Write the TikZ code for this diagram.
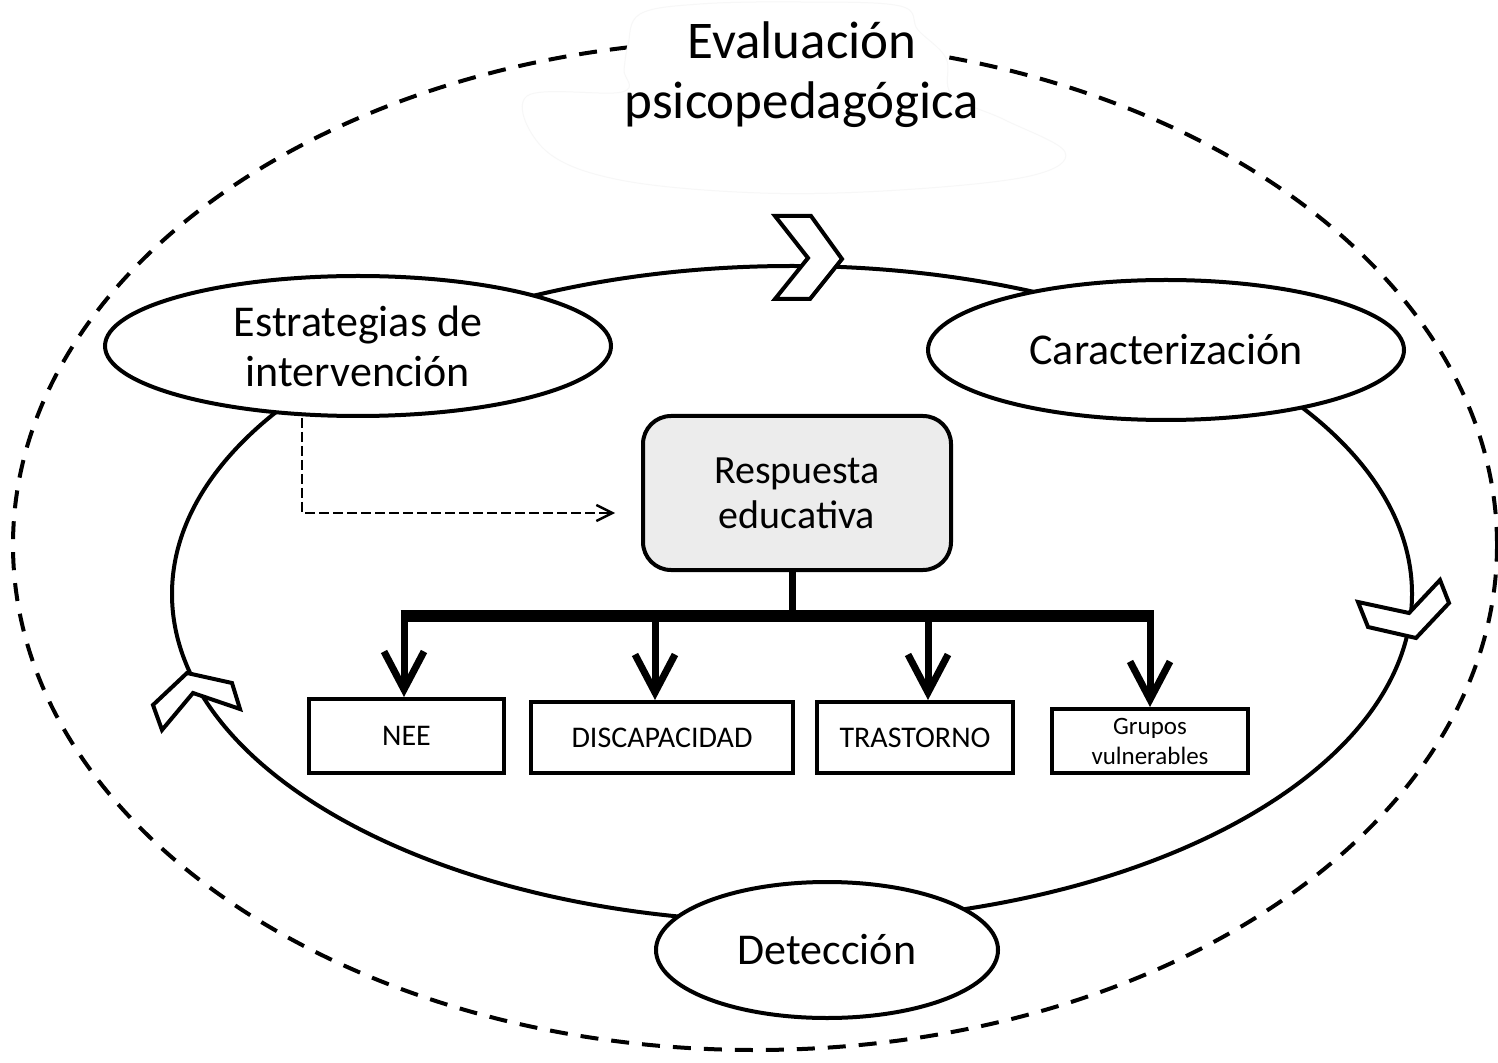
\documentclass[tikz,border=0pt]{standalone}
\usepackage{fontspec}
\setmainfont{Carlito}
\usetikzlibrary{arrows.meta,shapes.geometric}
\begin{document}
\begin{tikzpicture}[x=0.5pt,y=-0.5pt,
  oval/.style={ellipse,draw,line width=2pt,fill=white,inner sep=0pt,align=center,font=\fontsize{22}{25}\selectfont},
  cbox/.style={rectangle,draw,line width=2pt,fill=white,inner sep=0pt,align=center,font=\fontsize{15}{18}\selectfont},
  chev/.style={draw,line width=2pt,fill=white,line join=miter},
  treeline/.style={line width=3.5pt},
  treearrow/.style={line width=3.5pt,-{Straight Barb[length=19pt,width=20pt]}},
  dasharrow/.style={line width=1.2pt,dash pattern=on 5pt off 2pt,-{Straight Barb[length=8pt,width=8pt]}}]
\useasboundingbox (0,0) rectangle (1498,1063);
\fill[white] (0,0) rectangle (1498,1063);
% outer dashed ellipse
\draw[line width=2pt,dash pattern=on 9pt off 6.5pt] (755,545) ellipse [x radius=371pt,y radius=252.5pt];
% cloud behind the title
\draw[draw=gray!6,line width=0.5pt,fill=white] plot[smooth cycle,tension=0.6] coordinates {(628,45) (640,14) (700,4) (800,2) (900,6) (918,30) (946,58) (952,95) (1005,120) (1065,152) (1030,176) (900,190) (760,193) (620,180) (545,150) (527,96) (622,92) (624,70)};
\node[align=center,font=\fontsize{26.5}{30}\selectfont] (title) at (802,75) {Evaluación\\psicopedagógica};
% inner cycle
\draw[line width=2pt] (792,594) ellipse [x radius=310pt,y radius=164pt];
% chevrons on the cycle
\draw[chev] (775,216) -- (811,216) -- (842,259) -- (810,299) -- (775,299) -- (808,258) -- cycle;
\draw[chev] (1358,602) -- (1409,613) -- (1440,580) -- (1449,603) -- (1416,638) -- (1368,627) -- cycle;
\draw[chev] (187,673) -- (232,683) -- (240,709) -- (193,693) -- (162,730) -- (153,705) -- cycle;
% nodes
\node[oval,minimum width=253pt,minimum height=70pt] (estr) at (358,346) {Estrategias de\\intervención};
\node[oval,minimum width=238pt,minimum height=70pt] (car) at (1166,350) {Caracterización};
\node[oval,minimum width=171pt,minimum height=68pt] (det) at (827,950) {Detección};
\node[rectangle,rounded corners=14pt,draw,line width=2pt,fill=gray!15,inner sep=0pt,align=center,
  minimum width=154pt,minimum height=77pt,font=\fontsize{20}{22.5}\selectfont] (resp) at (797,493) {Respuesta\\educativa};
\node[cbox,minimum width=97.5pt,minimum height=37pt] (nee) at (406.5,736) {NEE};
\node[cbox,minimum width=131pt,minimum height=35.5pt] (disc) at (662,737.5) {DISCAPACIDAD};
\node[cbox,minimum width=98pt,minimum height=35.5pt] (tras) at (915,737.5) {TRASTORNO};
\node[cbox,minimum width=98pt,minimum height=32pt,font=\fontsize{12.5}{15}\selectfont] (grup) at (1150,741) {Grupos\\vulnerables};
% tree
\coordinate (b0) at (792,616);
\coordinate (b1) at (404,616);
\coordinate (b2) at (655,616);
\coordinate (b3) at (928,616);
\coordinate (b4) at (1150,616);
\coordinate (bl) at (400.5,616);
\coordinate (br) at (1153.5,616);
\draw[line width=6pt] (bl) -- (br);
\draw[treeline] (b0 |- resp.south) -- (b0);
\draw[treearrow] (b1) -- (b1 |- nee.north);
\draw[treearrow] (b2) -- (b2 |- disc.north);
\draw[treearrow] (b3) -- (b3 |- tras.north);
\draw[treearrow] (b4) -- (b4 |- grup.north);
% dashed arrow
\coordinate (dc) at (302,513);
\draw[dasharrow,shorten >=13pt] (dc |- estr.south) -- (dc) -- (resp.west |- dc);
\end{tikzpicture}
\end{document}
